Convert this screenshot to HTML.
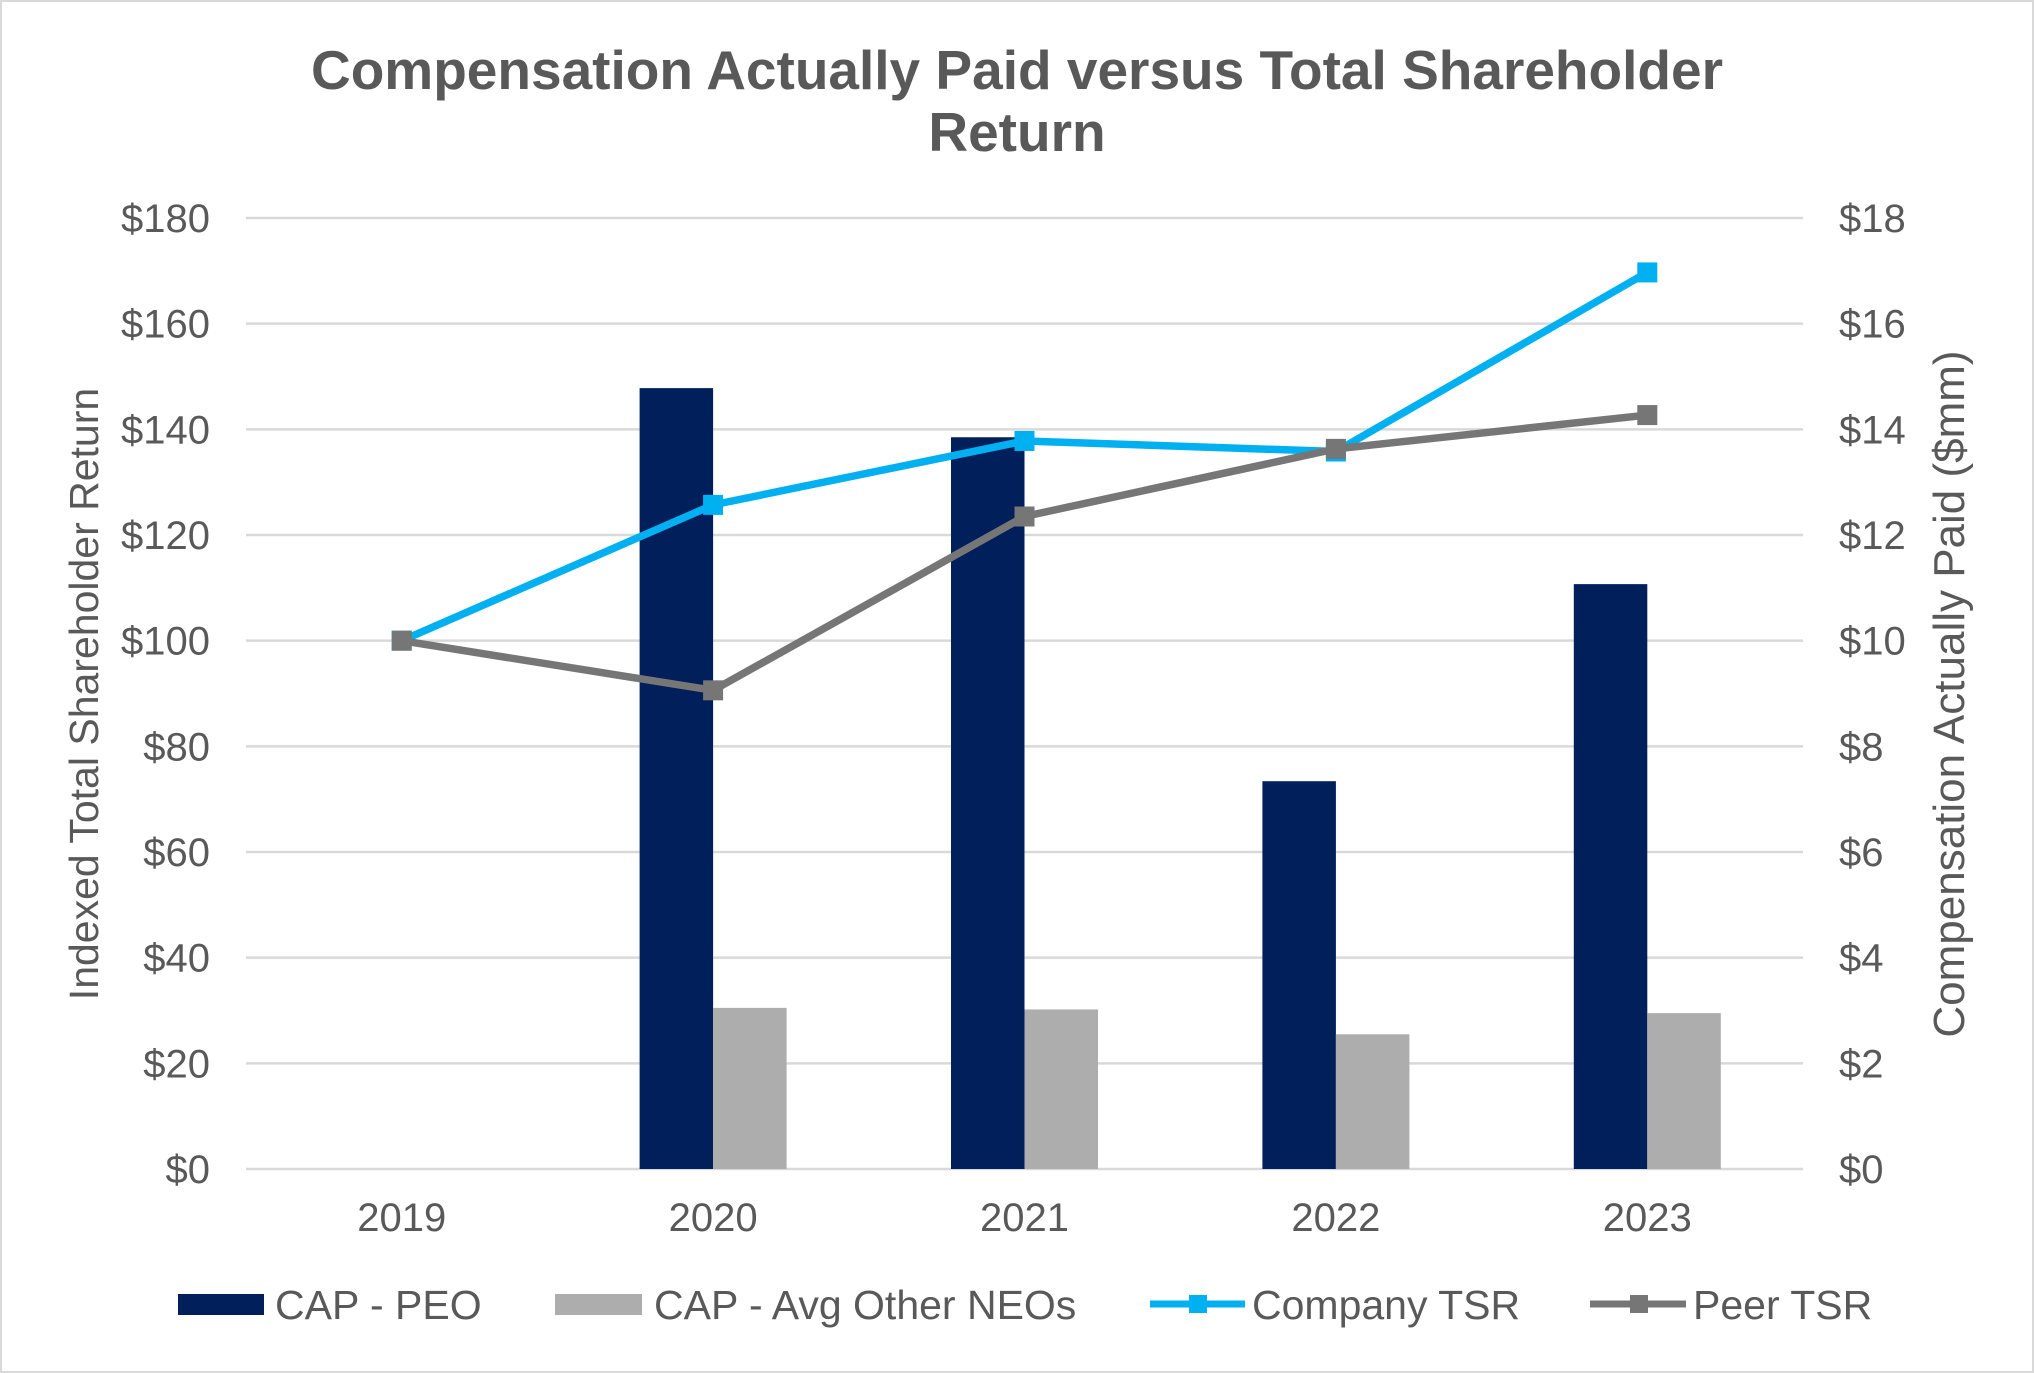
<!DOCTYPE html>
<html><head><meta charset="utf-8"><style>
html,body{margin:0;padding:0;background:#fff}
svg{display:block;font-family:"Liberation Sans",Arial,sans-serif}
</style></head><body>
<svg id="chart" width="2034" height="1373" viewBox="0 0 2034 1373">
<rect x="1" y="1" width="2032" height="1371" fill="#fff" stroke="#d9d9d9" stroke-width="2"/>
<text x="1017" y="89" text-anchor="middle" font-size="55" font-weight="bold" fill="#595959">Compensation Actually Paid versus Total Shareholder</text>
<text x="1017" y="151" text-anchor="middle" font-size="55" font-weight="bold" fill="#595959">Return</text>
<g id="grid"></g><g id="bars"></g><g id="lines"></g><g id="axes"></g>
<text transform="translate(98,694) rotate(-90)" text-anchor="middle" font-size="41" fill="#595959">Indexed Total Shareholder Return</text>
<text transform="translate(1964,694) rotate(-90)" text-anchor="middle" font-size="44" fill="#595959">Compensation Actually Paid ($mm)</text>
<g font-size="41" fill="#595959">
<rect x="178" y="1294" width="86" height="21" fill="#001f5b"/>
<text x="275" y="1319">CAP - PEO</text>
<rect x="555" y="1294" width="87" height="21" fill="#adadad"/>
<text x="654" y="1319">CAP - Avg Other NEOs</text>
<line x1="1150" y1="1304" x2="1245" y2="1304" stroke="#00b0f0" stroke-width="7"/>
<rect x="1189" y="1295" width="18" height="18" fill="#00b0f0"/>
<text x="1252" y="1319">Company TSR</text>
<line x1="1590" y1="1304" x2="1686" y2="1304" stroke="#767676" stroke-width="7"/>
<rect x="1630" y="1295" width="18" height="18" fill="#767676"/>
<text x="1693" y="1319">Peer TSR</text>
</g>
</svg>
<script>
const categories = ["2019","2020","2021","2022","2023"];
const capPeo = [null, 14.78, 13.85, 7.34, 11.07];
const capNeo = [null, 3.05, 3.02, 2.55, 2.95];
const companyTsr = [100, 125.7, 137.8, 135.8, 169.7];
const peerTsr = [100, 90.6, 123.5, 136.3, 142.7];
const leftTicks = [0,20,40,60,80,100,120,140,160,180];
const rightTicks = [0,2,4,6,8,10,12,14,16,18];

const NS="http://www.w3.org/2000/svg";
const X0=246, X1=1803, Y0=1169, Y1=218;
const band=(X1-X0)/categories.length;
const xc=i=>X0+band*(i+0.5);
const yL=v=>Y0-(v/180)*(Y0-Y1);
const yR=v=>Y0-(v/18)*(Y0-Y1);
function mk(tag,attrs,parent){const e=document.createElementNS(NS,tag);for(const k in attrs)e.setAttribute(k,attrs[k]);parent.appendChild(e);return e;}
const grid=document.getElementById('grid'),bars=document.getElementById('bars'),lines=document.getElementById('lines'),axes=document.getElementById('axes');
leftTicks.forEach((t,i)=>{
  const g=mk('line',{x1:X0,x2:X1,y1:yL(t),y2:yL(t),stroke:'#d9d9d9','stroke-width':2.5},grid);
  
  
  const l=mk('text',{x:210,y:yL(t)+14,'text-anchor':'end','font-size':40,fill:'#595959'},axes);
  l.textContent='$'+t;
  
  
});
rightTicks.forEach(t=>{
  const l=mk('text',{x:1839,y:yR(t)+14,'font-size':40,fill:'#595959'},axes);
  l.textContent='$'+t;
  
  
});
categories.forEach((c,i)=>{
  const l=mk('text',{x:xc(i),y:1231,'text-anchor':'middle','font-size':40,fill:'#595959'},axes);
  l.textContent=c;
  
  
});
const bw=73.5;
categories.forEach((c,i)=>{
  if(capPeo[i]!=null){
    const r=mk('rect',{x:xc(i)-bw,y:yR(capPeo[i]),width:bw,height:Y0-yR(capPeo[i]),fill:'#001f5b'},bars);
    
    
  }
  if(capNeo[i]!=null){
    const r=mk('rect',{x:xc(i),y:yR(capNeo[i]),width:bw,height:Y0-yR(capNeo[i]),fill:'#adadad'},bars);
    
    
  }
});
function series(vals,color,name){
  const pts=vals.map((v,i)=>xc(i)+','+yL(v)).join(' ');
  const p=mk('polyline',{points:pts,fill:'none',stroke:color,'stroke-width':7.5,'stroke-linejoin':'round'},lines);
  
  
  vals.forEach((v,i)=>{
    const m=mk('rect',{x:xc(i)-10,y:yL(v)-10,width:20,height:20,fill:color},lines);
    
    
  });
}
series(companyTsr,'#00b0f0','company-tsr');
series(peerTsr,'#767676','peer-tsr');
</script>
</body></html>
